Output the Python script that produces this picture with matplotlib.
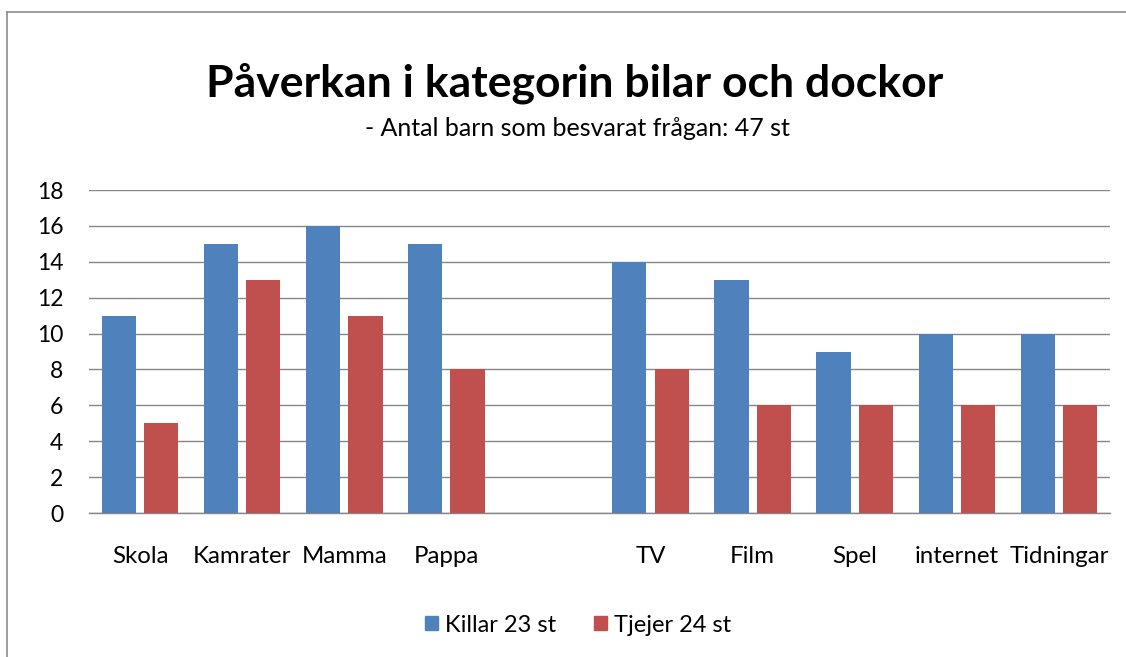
import numpy as np
import matplotlib
matplotlib.use("Agg")
import matplotlib.pyplot as plt
from matplotlib.patches import Patch
from matplotlib.lines import Line2D

plt.rcParams['font.family'] = ['Lato', 'DejaVu Sans']

# data (empty slot between Pappa and TV)
categories = ["Skola", "Kamrater", "Mamma", "Pappa", "", "TV", "Film", "Spel", "internet", "Tidningar"]
killar = [11, 15, 16, 15, np.nan, 14, 13, 9, 10, 10]
tjejer = [5, 13, 11, 8, np.nan, 8, 6, 6, 6, 6]
series_names = ["Killar 23 st", "Tjejer 24 st"]
yticks = [0, 2, 4, 6, 8, 10, 12, 14, 16, 18]

title = "Påverkan i kategorin bilar och dockor"
subtitle = "- Antal barn som besvarat frågan: 47 st"

blue = "#4F81BD"
red = "#C0504D"
grid_col = "#868686"

fig = plt.figure(figsize=(11.26, 6.57), dpi=100)
ax = fig.add_axes([89 / 1126, 1 - 513 / 657, (1110 - 89) / 1126, (513 - 190) / 657])

x = np.arange(len(categories))
w = 0.335
off = 0.2075
ax.bar(x - off, killar, w, color=blue, linewidth=0, zorder=3)
ax.bar(x + off, tjejer, w, color=red, linewidth=0, zorder=3)

ax.set_xlim(-0.5, len(categories) - 0.5)
ax.set_ylim(0, 18)
ax.set_yticks(yticks)
ax.set_xticks(x)
ax.set_xticklabels(categories)
ax.tick_params(axis='y', length=0, pad=18.5, labelsize=16.5)
ax.tick_params(axis='x', length=0, pad=24, labelsize=17.3)
ax.yaxis.grid(True, color=grid_col, linewidth=1.0, zorder=0)
ax.set_axisbelow(True)
for s in ['top', 'right', 'left']:
    ax.spines[s].set_visible(False)
ax.spines['bottom'].set_color(grid_col)
ax.spines['bottom'].set_linewidth(1.0)

fig.text(575 / 1126, 1 - 97 / 657, title, ha='center', va='baseline',
         fontsize=32, fontweight='bold')
fig.text(577 / 1126, 1 - 136 / 657, subtitle, ha='center', va='baseline', fontsize=18)

handles = [Patch(color=blue, label=series_names[0]), Patch(color=red, label=series_names[1])]
fig.legend(handles=handles, loc='center', bbox_to_anchor=(578 / 1126, 1 - 625 / 657),
           ncol=2, frameon=False, fontsize=17, handlelength=0.55, handleheight=0.55,
           handletextpad=0.3, columnspacing=1.6)

# chart area border (left and top edges visible)
border = "#8C8C8C"
fig.add_artist(Line2D([7 / 1126, 7 / 1126], [0, 1 - 12 / 657], color=border, linewidth=1.2,
                      transform=fig.transFigure))
fig.add_artist(Line2D([7 / 1126, 1], [1 - 12 / 657, 1 - 12 / 657], color=border, linewidth=1.2,
                      transform=fig.transFigure))

fig.savefig("out.png", dpi=100)
